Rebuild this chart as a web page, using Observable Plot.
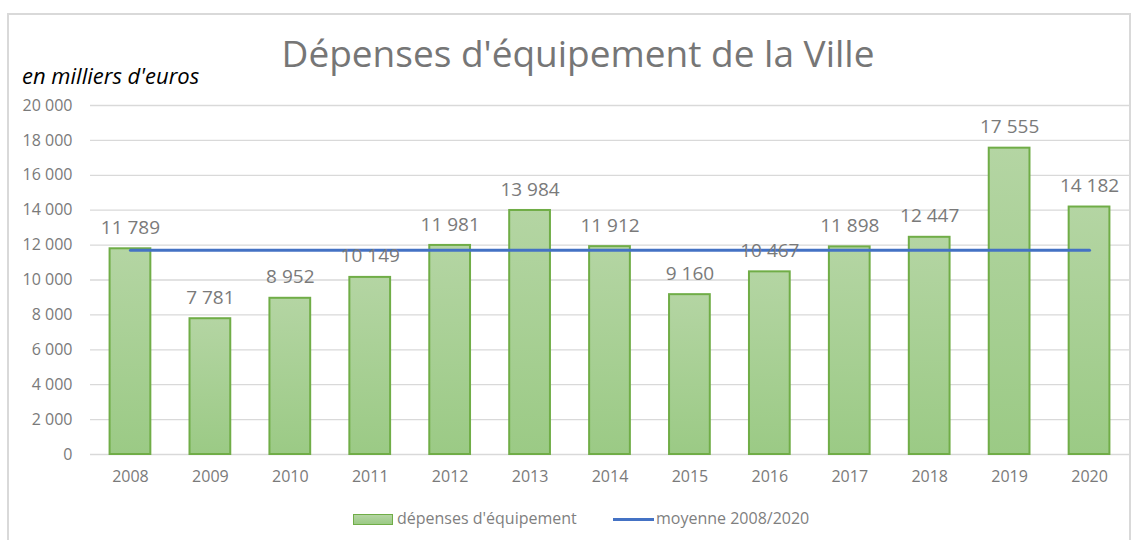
<!DOCTYPE html>
<html>
<head>
<meta charset="utf-8">
<script src="https://cdn.jsdelivr.net/npm/d3@7"></script>
<script src="https://cdn.jsdelivr.net/npm/@observablehq/plot@0.6"></script>
<style>
  html, body { margin: 0; padding: 0; background: #fff; overflow: hidden; }
  body { width: 1139px; height: 540px; position: relative; font-family: "Open Sans", "Noto Sans", sans-serif; }
  #frame { position: absolute; left: 7px; top: 13px; width: 1124px; height: 540px; border: 2px solid #d9d9d9; border-bottom: none; box-sizing: border-box; }
  #title { position: absolute; left: 0; width: 1156px; top: 27px; text-align: center; font-size: 37px; color: #767676; letter-spacing: 0px; white-space: nowrap; }
  #subtitle { position: absolute; left: 22px; top: 60px; font-size: 22px; font-style: italic; color: #000; }
  #chart { position: absolute; left: 0; top: 95px; width: 1139px; }
  #chart svg { max-width: none !important; }
  #legend { position: absolute; left: 0; top: 507px; width: 1139px; font-size: 16px; color: #7f7f7f; }
  .sw-bar { position: absolute; left: 353px; top: 7px; width: 38px; height: 9px; background: linear-gradient(#b4d5a3, #9bca85); border: 1.5px solid #70ad47; }
  .lab1 { position: absolute; left: 397px; top: 0px; }
  .sw-line { position: absolute; left: 613px; top: 11px; width: 41px; height: 3px; background: #4472c4; }
  .lab2 { position: absolute; left: 656px; top: 0px; }
</style>
</head>
<body>
<div id="frame"></div>
<div id="title">Dépenses d'équipement de la Ville</div>
<div id="subtitle">en milliers d'euros</div>
<div id="chart"></div>
<div id="legend">
  <div class="sw-bar"></div><span class="lab1">dépenses d'équipement</span>
  <div class="sw-line"></div><span class="lab2">moyenne 2008/2020</span>
</div>
<script>
const years = ["2008","2009","2010","2011","2012","2013","2014","2015","2016","2017","2018","2019","2020"];
const depenses = [11789, 7781, 8952, 10149, 11981, 13984, 11912, 9160, 10467, 11898, 12447, 17555, 14182];
const moyenne = 11712;
const yTicks = [0, 2000, 4000, 6000, 8000, 10000, 12000, 14000, 16000, 18000, 20000];

const data = years.map((y, i) => ({year: y, value: depenses[i]}));
const avgData = years.map(y => ({year: y, value: moyenne}));

const fr = d3.formatLocale({decimal: ",", thousands: "\u00a0", grouping: [3], currency: ["", " €"]});
const fmt = fr.format(",d");

const plot = Plot.plot({
  width: 1139,
  height: 405,
  marginLeft: 90,
  marginRight: 10,
  marginTop: 10,
  marginBottom: 46,
  style: {fontFamily: "'Open Sans', 'Noto Sans', sans-serif", background: "transparent"},
  x: {domain: years, paddingInner: 0.49, paddingOuter: 0.245, align: 0.5, round: false, label: null},
  y: {domain: [0, 20000], label: null},
  marks: [
    Plot.ruleY(yTicks, {stroke: "#d9d9d9", strokeWidth: 1.3}),
    Plot.axisY(yTicks, {tickFormat: fmt, tickSize: 0, tickPadding: 18, fontSize: 16, fill: "#7a7a7a", label: null}),
    Plot.axisX({tickSize: 0, tickPadding: 16, fontSize: 16, fill: "#7a7a7a", label: null}),
    Plot.barY(data, {x: "year", y: "value", fill: "url(#barGrad)", stroke: "#70ad47", strokeWidth: 2, inset: 0}),
    Plot.lineY(avgData, {x: "year", y: "value", stroke: "#4472c4", strokeWidth: 3}),
    Plot.text(data, {x: "year", y: "value", text: d => fmt(d.value), dy: -21, fontSize: 19, fill: "#7a7a7a"})
  ]
});

const svg = d3.select(plot);
const defs = svg.insert("defs", ":first-child");
const g = defs.append("linearGradient").attr("id", "barGrad").attr("x1", 0).attr("y1", 0).attr("x2", 0).attr("y2", 1);
g.append("stop").attr("offset", "0%").attr("stop-color", "#b4d5a3");
g.append("stop").attr("offset", "100%").attr("stop-color", "#9bca85");

document.getElementById("chart").appendChild(plot);
</script>
</body>
</html>
